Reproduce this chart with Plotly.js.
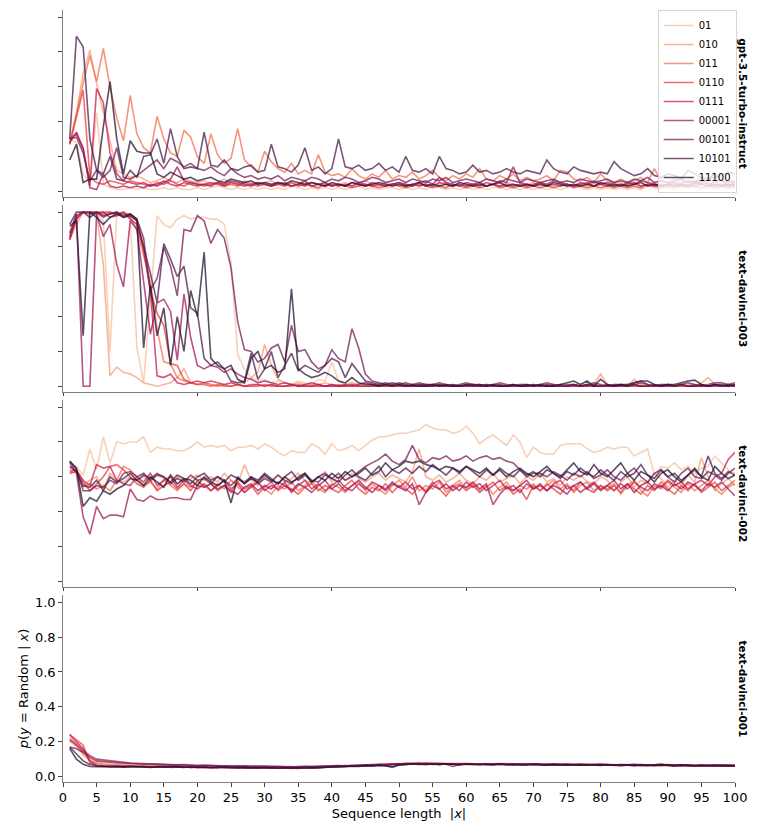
<!DOCTYPE html>
<html>
<head>
<meta charset="utf-8">
<script src="https://cdn.plot.ly/plotly-3.0.1.min.js"></script>
<style>
  html, body { margin: 0; padding: 0; background: #fff; }
  #chart { width: 761px; height: 837px; }
</style>
</head>
<body>
<div id="chart"></div>
<script>
// sequence types (hue) and their rocket_r colours
var seqTypes = ['01', '010', '011', '0110', '0111', '00001', '00101', '10101', '11100'];
var seqColors = ['#f6c1a2', '#f59e78', '#f27252', '#e6403f', '#cb1b4f', '#a11a5b', '#761e57', '#4c1d4b', '#241432'];
var models = ['gpt-3.5-turbo-instruct', 'text-davinci-003', 'text-davinci-002', 'text-davinci-001'];

var seqLength = [];
for (var i = 1; i <= 100; i++) seqLength.push(i);

// p(y = Random | x), one row per sequence type, x = 1..100
var gpt35Instruct = [
  [0.30,0.28,0.10,0.05,0.45,0.04,0.02,0.01,0.01,0.02, 0.01,0.02,0.01,0.01,0.02,0.01,0.02,0.01,0.01,0.02,
   0.01,0.02,0.03,0.02,0.01,0.02,0.01,0.02,0.01,0.02, 0.01,0.02,0.01,0.03,0.02,0.01,0.02,0.01,0.02,0.01,
   0.02,0.01,0.02,0.03,0.01,0.02,0.01,0.02,0.02,0.01, 0.02,0.01,0.02,0.01,0.03,0.02,0.01,0.02,0.01,0.02,
   0.01,0.02,0.01,0.02,0.03,0.01,0.02,0.01,0.02,0.01, 0.02,0.01,0.02,0.01,0.02,0.03,0.02,0.01,0.02,0.01,
   0.02,0.01,0.02,0.01,0.02,0.01,0.03,0.02,0.01,0.02, 0.01,0.02,0.04,0.02,0.01,0.02,0.01,0.02,0.01,0.02],
  [0.27,0.45,0.68,0.81,0.62,0.45,0.28,0.12,0.10,0.08, 0.09,0.07,0.05,0.06,0.08,0.06,0.05,0.07,0.06,0.05,
   0.06,0.04,0.05,0.07,0.05,0.04,0.06,0.05,0.04,0.05, 0.06,0.04,0.03,0.05,0.04,0.05,0.03,0.04,0.05,0.03,
   0.04,0.05,0.03,0.04,0.06,0.04,0.03,0.05,0.04,0.03, 0.04,0.03,0.05,0.04,0.03,0.04,0.05,0.03,0.04,0.03,
   0.04,0.05,0.03,0.04,0.03,0.05,0.04,0.03,0.04,0.05, 0.03,0.04,0.03,0.05,0.04,0.03,0.04,0.03,0.05,0.04,
   0.03,0.04,0.05,0.03,0.04,0.03,0.04,0.05,0.03,0.04, 0.05,0.04,0.03,0.04,0.06,0.04,0.03,0.04,0.03,0.04],
  [0.27,0.45,0.62,0.78,0.63,0.82,0.60,0.42,0.29,0.55, 0.33,0.25,0.22,0.43,0.30,0.22,0.20,0.35,0.31,0.20,
   0.16,0.33,0.21,0.16,0.19,0.36,0.18,0.14,0.11,0.23, 0.17,0.13,0.11,0.16,0.10,0.12,0.10,0.21,0.11,0.09,
   0.10,0.08,0.13,0.09,0.07,0.10,0.08,0.12,0.07,0.09, 0.08,0.11,0.07,0.09,0.12,0.08,0.06,0.09,0.07,0.10,
   0.08,0.13,0.07,0.06,0.09,0.07,0.10,0.06,0.08,0.06, 0.07,0.09,0.06,0.12,0.11,0.07,0.06,0.08,0.05,0.10,
   0.06,0.05,0.07,0.05,0.06,0.08,0.05,0.13,0.06,0.05, 0.07,0.05,0.06,0.04,0.05,0.07,0.05,0.04,0.06,0.04],
  [0.27,0.42,0.58,0.08,0.05,0.04,0.06,0.05,0.04,0.06, 0.05,0.04,0.03,0.05,0.04,0.06,0.04,0.03,0.05,0.04,
   0.03,0.04,0.05,0.03,0.04,0.03,0.05,0.04,0.03,0.04, 0.03,0.04,0.03,0.05,0.03,0.04,0.03,0.02,0.04,0.03,
   0.04,0.03,0.02,0.03,0.04,0.03,0.02,0.03,0.04,0.03, 0.02,0.03,0.04,0.03,0.02,0.03,0.02,0.04,0.03,0.02,
   0.03,0.02,0.03,0.04,0.02,0.03,0.02,0.03,0.02,0.03, 0.02,0.03,0.02,0.03,0.04,0.02,0.03,0.02,0.03,0.02,
   0.03,0.02,0.03,0.02,0.03,0.02,0.04,0.03,0.02,0.03, 0.02,0.03,0.02,0.03,0.02,0.03,0.02,0.03,0.02,0.03],
  [0.30,0.33,0.25,0.03,0.59,0.51,0.22,0.10,0.06,0.05, 0.04,0.05,0.03,0.04,0.06,0.04,0.03,0.05,0.04,0.03,
   0.04,0.05,0.04,0.03,0.05,0.04,0.03,0.04,0.05,0.04, 0.03,0.04,0.05,0.03,0.04,0.03,0.05,0.04,0.03,0.04,
   0.03,0.04,0.03,0.05,0.04,0.03,0.04,0.03,0.04,0.05, 0.03,0.04,0.03,0.04,0.03,0.05,0.04,0.03,0.04,0.03,
   0.04,0.03,0.05,0.04,0.03,0.04,0.03,0.04,0.03,0.04, 0.05,0.03,0.04,0.03,0.04,0.03,0.04,0.05,0.03,0.04,
   0.03,0.04,0.03,0.04,0.05,0.03,0.04,0.03,0.04,0.03, 0.04,0.03,0.04,0.03,0.04,0.05,0.03,0.04,0.03,0.04],
  [0.28,0.34,0.24,0.02,0.01,0.10,0.03,0.02,0.03,0.02, 0.03,0.02,0.04,0.03,0.05,0.07,0.14,0.06,0.05,0.04,
   0.04,0.03,0.05,0.04,0.06,0.05,0.04,0.03,0.05,0.04, 0.03,0.05,0.04,0.03,0.04,0.06,0.03,0.04,0.05,0.03,
   0.04,0.03,0.05,0.04,0.03,0.05,0.04,0.03,0.04,0.05, 0.04,0.03,0.05,0.06,0.04,0.08,0.05,0.04,0.03,0.05,
   0.04,0.05,0.03,0.04,0.06,0.05,0.14,0.05,0.04,0.03, 0.05,0.04,0.06,0.05,0.04,0.03,0.05,0.04,0.06,0.04,
   0.05,0.04,0.03,0.05,0.04,0.06,0.05,0.04,0.03,0.04, 0.05,0.04,0.06,0.05,0.08,0.04,0.05,0.07,0.03,0.05],
  [0.30,0.31,0.22,0.06,0.12,0.08,0.12,0.25,0.08,0.07, 0.09,0.12,0.15,0.18,0.13,0.19,0.17,0.14,0.16,0.13,
   0.12,0.14,0.11,0.09,0.13,0.10,0.08,0.09,0.07,0.08, 0.07,0.09,0.06,0.08,0.07,0.06,0.08,0.07,0.05,0.07,
   0.06,0.08,0.07,0.05,0.06,0.08,0.07,0.05,0.06,0.07, 0.05,0.07,0.06,0.05,0.07,0.06,0.08,0.05,0.06,0.07,
   0.06,0.05,0.07,0.06,0.05,0.07,0.06,0.05,0.07,0.06, 0.05,0.06,0.07,0.05,0.06,0.05,0.07,0.06,0.05,0.06,
   0.07,0.05,0.06,0.05,0.07,0.06,0.08,0.05,0.06,0.05, 0.06,0.07,0.05,0.06,0.05,0.07,0.10,0.06,0.05,0.06],
  [0.30,0.89,0.83,0.30,0.12,0.10,0.20,0.07,0.06,0.12, 0.08,0.20,0.21,0.30,0.16,0.36,0.20,0.13,0.14,0.13,
   0.34,0.15,0.14,0.18,0.13,0.12,0.14,0.15,0.11,0.12, 0.27,0.14,0.13,0.11,0.15,0.25,0.12,0.14,0.10,0.13,
   0.30,0.14,0.13,0.15,0.12,0.13,0.16,0.12,0.14,0.11, 0.20,0.12,0.11,0.13,0.10,0.20,0.13,0.12,0.10,0.11,
   0.15,0.11,0.12,0.10,0.11,0.13,0.11,0.10,0.12,0.11, 0.10,0.18,0.13,0.11,0.10,0.14,0.12,0.11,0.10,0.11,
   0.10,0.17,0.13,0.11,0.09,0.10,0.13,0.09,0.08,0.10, 0.09,0.07,0.12,0.10,0.08,0.07,0.08,0.09,0.11,0.10],
  [0.18,0.27,0.05,0.07,0.07,0.37,0.63,0.30,0.10,0.29, 0.23,0.22,0.22,0.10,0.08,0.11,0.09,0.07,0.08,0.06,
   0.07,0.08,0.06,0.05,0.07,0.06,0.05,0.06,0.04,0.05, 0.04,0.05,0.04,0.06,0.05,0.04,0.05,0.04,0.03,0.05,
   0.04,0.03,0.05,0.04,0.03,0.04,0.05,0.04,0.03,0.04, 0.03,0.04,0.05,0.03,0.04,0.03,0.04,0.03,0.05,0.04,
   0.03,0.04,0.03,0.04,0.05,0.03,0.04,0.03,0.04,0.03, 0.04,0.03,0.05,0.04,0.03,0.04,0.03,0.04,0.03,0.05,
   0.04,0.03,0.04,0.03,0.04,0.05,0.03,0.04,0.03,0.04, 0.03,0.04,0.03,0.05,0.04,0.03,0.04,0.03,0.04,0.03]
];

var davinci003 = [
  [0.88,0.97,1.00,1.00,0.99,0.95,0.20,1.00,0.99,0.97, 0.22,0.02,0.50,0.98,0.93,0.91,0.96,0.98,0.96,0.97,
   0.97,0.96,0.96,0.93,0.71,0.18,0.10,0.05,0.03,0.04, 0.02,0.03,0.02,0.01,0.03,0.02,0.01,0.04,0.03,0.14,
   0.03,0.01,0.02,0.01,0.02,0.01,0.02,0.01,0.00,0.01, 0.00,0.01,0.00,0.01,0.01,0.00,0.01,0.00,0.01,0.00,
   0.01,0.00,0.01,0.00,0.00,0.01,0.00,0.01,0.00,0.01, 0.00,0.01,0.00,0.01,0.00,0.00,0.01,0.00,0.01,0.00,
   0.01,0.00,0.00,0.01,0.00,0.01,0.00,0.01,0.00,0.01, 0.00,0.01,0.00,0.00,0.01,0.00,0.01,0.00,0.01,0.00],
  [0.84,0.93,1.00,1.00,0.99,0.70,0.06,0.11,0.08,0.07, 0.05,0.02,0.01,0.00,0.01,0.02,0.05,0.10,0.02,0.01,
   0.02,0.01,0.00,0.01,0.00,0.01,0.02,0.05,0.08,0.24, 0.12,0.04,0.02,0.01,0.02,0.01,0.00,0.01,0.02,0.01,
   0.00,0.01,0.02,0.01,0.00,0.01,0.00,0.01,0.00,0.01, 0.00,0.01,0.00,0.00,0.01,0.00,0.01,0.00,0.00,0.01,
   0.00,0.00,0.01,0.00,0.01,0.00,0.00,0.01,0.00,0.00, 0.01,0.00,0.00,0.01,0.00,0.01,0.00,0.00,0.01,0.07,
   0.01,0.00,0.01,0.00,0.04,0.01,0.00,0.01,0.00,0.00, 0.01,0.00,0.01,0.00,0.02,0.05,0.01,0.00,0.01,0.00],
  [0.84,0.96,1.00,1.00,1.00,0.99,1.00,0.98,0.99,0.97, 0.90,0.75,0.60,0.33,0.14,0.13,0.05,0.03,0.02,0.01,
   0.02,0.01,0.00,0.01,0.00,0.01,0.00,0.00,0.01,0.00, 0.01,0.00,0.00,0.01,0.00,0.00,0.01,0.00,0.00,0.01,
   0.00,0.00,0.01,0.00,0.00,0.00,0.01,0.00,0.00,0.00, 0.01,0.00,0.00,0.00,0.00,0.01,0.00,0.00,0.00,0.00,
   0.00,0.01,0.00,0.00,0.00,0.00,0.00,0.01,0.00,0.00, 0.00,0.00,0.01,0.00,0.00,0.00,0.00,0.00,0.01,0.00,
   0.00,0.00,0.00,0.01,0.00,0.00,0.00,0.00,0.00,0.01, 0.00,0.00,0.00,0.00,0.01,0.00,0.00,0.00,0.00,0.00],
  [0.84,0.97,1.00,1.00,1.00,1.00,1.00,0.99,1.00,0.98, 0.95,0.80,0.55,0.42,0.35,0.13,0.12,0.04,0.02,0.01,
   0.01,0.00,0.01,0.00,0.00,0.01,0.00,0.00,0.00,0.01, 0.00,0.00,0.00,0.00,0.01,0.00,0.00,0.00,0.00,0.00,
   0.01,0.00,0.00,0.00,0.00,0.00,0.01,0.00,0.00,0.00, 0.00,0.00,0.00,0.01,0.00,0.00,0.00,0.00,0.00,0.00,
   0.01,0.00,0.00,0.00,0.00,0.00,0.00,0.00,0.01,0.00, 0.00,0.00,0.00,0.00,0.00,0.01,0.00,0.00,0.00,0.00,
   0.00,0.00,0.01,0.00,0.00,0.00,0.00,0.00,0.00,0.01, 0.00,0.00,0.00,0.00,0.00,0.00,0.01,0.00,0.00,0.00],
  [0.85,0.96,1.00,1.00,0.99,1.00,0.97,0.98,1.00,0.96, 0.93,0.78,0.55,0.06,0.05,0.07,0.02,0.01,0.02,0.03,
   0.02,0.03,0.02,0.01,0.02,0.01,0.00,0.01,0.01,0.00, 0.01,0.00,0.00,0.01,0.00,0.00,0.00,0.01,0.00,0.00,
   0.00,0.00,0.01,0.00,0.00,0.00,0.00,0.00,0.01,0.00, 0.00,0.00,0.00,0.00,0.00,0.01,0.00,0.00,0.00,0.00,
   0.00,0.00,0.01,0.00,0.00,0.00,0.00,0.00,0.00,0.00, 0.01,0.00,0.00,0.00,0.00,0.00,0.00,0.01,0.00,0.00,
   0.00,0.00,0.00,0.00,0.01,0.00,0.00,0.00,0.00,0.00, 0.00,0.01,0.00,0.00,0.00,0.00,0.00,0.00,0.01,0.00],
  [0.88,0.99,0.00,0.00,0.99,0.86,0.93,0.70,0.57,0.95, 0.90,0.60,0.30,0.48,0.50,0.43,0.15,0.53,0.28,0.12,
   0.10,0.12,0.11,0.08,0.10,0.07,0.05,0.04,0.02,0.03, 0.02,0.01,0.02,0.01,0.00,0.01,0.02,0.01,0.00,0.01,
   0.00,0.01,0.00,0.01,0.02,0.01,0.00,0.01,0.00,0.01, 0.00,0.00,0.01,0.00,0.01,0.00,0.00,0.01,0.00,0.00,
   0.01,0.00,0.00,0.01,0.00,0.00,0.01,0.00,0.00,0.01, 0.00,0.00,0.01,0.00,0.00,0.01,0.00,0.00,0.01,0.00,
   0.00,0.01,0.00,0.00,0.02,0.03,0.01,0.00,0.01,0.00, 0.00,0.01,0.00,0.01,0.00,0.00,0.01,0.00,0.00,0.01],
  [0.86,0.98,1.00,0.99,1.00,0.97,0.99,1.00,0.98,0.99, 0.96,0.85,0.55,0.62,0.80,0.69,0.52,0.90,0.89,0.98,
   0.95,0.82,0.90,0.85,0.68,0.37,0.21,0.20,0.14,0.16, 0.22,0.24,0.14,0.35,0.20,0.21,0.14,0.10,0.12,0.21,
   0.16,0.14,0.33,0.22,0.07,0.03,0.02,0.01,0.02,0.01, 0.02,0.01,0.02,0.01,0.01,0.02,0.01,0.00,0.01,0.02,
   0.01,0.01,0.00,0.01,0.02,0.01,0.00,0.01,0.01,0.00, 0.01,0.02,0.01,0.00,0.01,0.01,0.00,0.01,0.02,0.01,
   0.00,0.01,0.01,0.00,0.01,0.02,0.01,0.00,0.01,0.01, 0.00,0.01,0.02,0.01,0.00,0.01,0.02,0.02,0.01,0.02],
  [0.93,1.00,1.00,0.97,1.00,0.98,0.99,1.00,0.97,0.98, 0.95,0.80,0.65,0.48,0.82,0.73,0.63,0.69,0.45,0.42,
   0.16,0.12,0.14,0.10,0.03,0.02,0.03,0.19,0.04,0.10, 0.20,0.05,0.12,0.19,0.09,0.12,0.10,0.08,0.12,0.16,
   0.14,0.05,0.13,0.08,0.03,0.02,0.01,0.02,0.01,0.02, 0.01,0.00,0.01,0.01,0.00,0.01,0.00,0.01,0.00,0.01,
   0.01,0.00,0.01,0.00,0.01,0.00,0.01,0.00,0.00,0.01, 0.00,0.01,0.00,0.01,0.00,0.01,0.00,0.01,0.00,0.00,
   0.01,0.00,0.01,0.00,0.01,0.00,0.00,0.01,0.00,0.01, 0.00,0.01,0.00,0.00,0.01,0.00,0.01,0.00,0.01,0.00],
  [0.92,0.95,0.29,1.00,0.97,0.93,0.97,0.99,0.97,0.99, 0.96,0.22,0.58,0.29,0.45,0.12,0.40,0.20,0.55,0.40,
   0.77,0.16,0.12,0.10,0.12,0.04,0.02,0.16,0.20,0.10, 0.12,0.08,0.10,0.56,0.10,0.07,0.05,0.06,0.08,0.06,
   0.03,0.02,0.05,0.02,0.01,0.01,0.00,0.01,0.00,0.01, 0.00,0.01,0.00,0.00,0.01,0.00,0.01,0.00,0.00,0.01,
   0.00,0.01,0.00,0.01,0.00,0.00,0.01,0.00,0.01,0.00, 0.01,0.00,0.00,0.01,0.02,0.03,0.01,0.03,0.00,0.04,
   0.01,0.00,0.01,0.01,0.02,0.03,0.03,0.01,0.00,0.01, 0.01,0.02,0.03,0.035,0.01,0.00,0.01,0.01,0.00,0.01]
];

var davinci002 = [
  [0.65,0.66,0.61,0.76,0.64,0.83,0.68,0.80,0.79,0.80, 0.80,0.83,0.74,0.77,0.76,0.76,0.75,0.75,0.77,0.80,
   0.77,0.78,0.77,0.78,0.75,0.77,0.77,0.78,0.76,0.79, 0.77,0.74,0.72,0.75,0.74,0.74,0.79,0.77,0.73,0.79,
   0.75,0.76,0.78,0.75,0.78,0.81,0.83,0.83,0.84,0.85, 0.85,0.86,0.87,0.90,0.88,0.87,0.87,0.85,0.86,0.89,
   0.85,0.79,0.82,0.84,0.81,0.78,0.84,0.80,0.71,0.77, 0.74,0.73,0.73,0.78,0.79,0.79,0.79,0.76,0.74,0.75,
   0.77,0.76,0.77,0.77,0.72,0.74,0.76,0.61,0.66,0.65, 0.68,0.64,0.66,0.62,0.65,0.66,0.72,0.68,0.64,0.62],
  [0.64,0.64,0.55,0.58,0.60,0.53,0.62,0.58,0.57,0.60, 0.58,0.60,0.57,0.61,0.59,0.56,0.60,0.58,0.59,0.61,
   0.58,0.60,0.57,0.62,0.58,0.56,0.67,0.58,0.55,0.60, 0.58,0.61,0.57,0.59,0.62,0.58,0.56,0.60,0.63,0.57,
   0.60,0.58,0.62,0.59,0.57,0.60,0.62,0.58,0.61,0.59, 0.57,0.63,0.76,0.60,0.58,0.61,0.57,0.59,0.62,0.58,
   0.56,0.60,0.58,0.62,0.57,0.59,0.61,0.56,0.60,0.58, 0.62,0.57,0.59,0.55,0.60,0.58,0.61,0.57,0.56,0.60,
   0.58,0.52,0.57,0.60,0.54,0.58,0.56,0.62,0.59,0.54, 0.58,0.55,0.61,0.57,0.71,0.60,0.52,0.56,0.59,0.55],
  [0.62,0.63,0.54,0.56,0.53,0.55,0.52,0.58,0.66,0.64, 0.60,0.55,0.57,0.53,0.58,0.55,0.52,0.56,0.54,0.57,
   0.55,0.52,0.56,0.53,0.58,0.54,0.51,0.55,0.57,0.53, 0.50,0.55,0.53,0.57,0.52,0.55,0.58,0.53,0.51,0.56,
   0.54,0.51,0.55,0.57,0.52,0.56,0.53,0.50,0.55,0.58, 0.54,0.60,0.52,0.55,0.53,0.57,0.51,0.55,0.58,0.53,
   0.56,0.52,0.55,0.50,0.54,0.57,0.52,0.55,0.53,0.56, 0.52,0.55,0.58,0.53,0.56,0.51,0.55,0.57,0.52,0.55,
   0.53,0.56,0.50,0.55,0.58,0.52,0.49,0.55,0.53,0.57, 0.54,0.51,0.56,0.52,0.55,0.58,0.53,0.50,0.54,0.56],
  [0.62,0.63,0.57,0.52,0.56,0.60,0.66,0.67,0.64,0.60, 0.56,0.54,0.58,0.52,0.55,0.57,0.53,0.56,0.52,0.58,
   0.54,0.56,0.52,0.55,0.51,0.57,0.53,0.55,0.50,0.54, 0.57,0.52,0.55,0.53,0.50,0.54,0.56,0.52,0.55,0.53,
   0.51,0.55,0.58,0.53,0.50,0.54,0.52,0.56,0.51,0.55, 0.53,0.50,0.55,0.52,0.57,0.53,0.49,0.54,0.56,0.52,
   0.55,0.51,0.54,0.57,0.52,0.55,0.50,0.53,0.47,0.55, 0.52,0.56,0.53,0.50,0.55,0.52,0.57,0.53,0.51,0.55,
   0.52,0.55,0.51,0.56,0.53,0.50,0.55,0.52,0.57,0.53, 0.50,0.55,0.52,0.56,0.51,0.54,0.57,0.52,0.55,0.58],
  [0.63,0.64,0.58,0.55,0.67,0.65,0.66,0.58,0.56,0.55, 0.60,0.57,0.62,0.55,0.58,0.60,0.54,0.58,0.55,0.53,
   0.56,0.52,0.55,0.58,0.53,0.56,0.51,0.54,0.57,0.52, 0.55,0.53,0.57,0.51,0.55,0.58,0.53,0.56,0.52,0.55,
   0.58,0.54,0.52,0.56,0.53,0.57,0.55,0.52,0.56,0.54, 0.57,0.53,0.55,0.51,0.56,0.58,0.53,0.55,0.52,0.57,
   0.54,0.56,0.52,0.55,0.58,0.53,0.55,0.51,0.56,0.53, 0.55,0.52,0.56,0.58,0.53,0.55,0.51,0.54,0.57,0.53,
   0.55,0.52,0.56,0.53,0.57,0.54,0.52,0.56,0.54,0.58, 0.55,0.57,0.53,0.56,0.58,0.55,0.60,0.62,0.70,0.74],
  [0.68,0.62,0.37,0.27,0.43,0.36,0.38,0.38,0.37,0.53, 0.47,0.46,0.49,0.47,0.47,0.48,0.48,0.47,0.47,0.55,
   0.54,0.56,0.53,0.55,0.52,0.50,0.54,0.56,0.52,0.55, 0.53,0.57,0.55,0.52,0.56,0.54,0.51,0.55,0.58,0.53,
   0.56,0.52,0.55,0.58,0.54,0.51,0.55,0.53,0.57,0.54, 0.52,0.56,0.44,0.51,0.55,0.53,0.56,0.52,0.55,0.54,
   0.57,0.53,0.56,0.44,0.50,0.54,0.52,0.55,0.58,0.53, 0.56,0.52,0.55,0.53,0.50,0.55,0.57,0.53,0.56,0.52,
   0.55,0.58,0.53,0.56,0.51,0.55,0.57,0.53,0.55,0.52, 0.56,0.53,0.57,0.55,0.52,0.56,0.54,0.57,0.53,0.49],
  [0.69,0.64,0.52,0.52,0.55,0.54,0.58,0.56,0.62,0.63, 0.60,0.62,0.58,0.61,0.60,0.56,0.59,0.57,0.61,0.58,
   0.59,0.56,0.60,0.58,0.55,0.59,0.57,0.60,0.56,0.59, 0.57,0.61,0.58,0.56,0.60,0.62,0.58,0.57,0.61,0.59,
   0.62,0.58,0.60,0.63,0.66,0.68,0.70,0.73,0.69,0.67, 0.70,0.78,0.70,0.68,0.71,0.70,0.72,0.69,0.70,0.72,
   0.69,0.71,0.72,0.70,0.71,0.69,0.68,0.64,0.60,0.62, 0.62,0.60,0.63,0.61,0.58,0.62,0.60,0.63,0.59,0.61,
   0.64,0.60,0.58,0.62,0.65,0.60,0.57,0.62,0.64,0.60, 0.57,0.62,0.65,0.60,0.59,0.63,0.61,0.58,0.62,0.65],
  [0.66,0.63,0.55,0.54,0.58,0.52,0.60,0.57,0.59,0.62, 0.58,0.61,0.59,0.62,0.60,0.57,0.61,0.59,0.56,0.60,
   0.62,0.58,0.60,0.57,0.61,0.59,0.56,0.60,0.58,0.62, 0.59,0.56,0.60,0.63,0.58,0.61,0.57,0.60,0.62,0.59,
   0.57,0.61,0.64,0.60,0.58,0.62,0.66,0.60,0.64,0.62, 0.65,0.62,0.66,0.63,0.67,0.64,0.61,0.65,0.62,0.66,
   0.63,0.60,0.64,0.61,0.65,0.62,0.60,0.64,0.61,0.63, 0.60,0.64,0.62,0.59,0.63,0.61,0.65,0.62,0.60,0.64,
   0.61,0.58,0.63,0.60,0.62,0.67,0.61,0.59,0.64,0.60, 0.62,0.58,0.61,0.64,0.60,0.72,0.62,0.59,0.63,0.61],
  [0.69,0.65,0.43,0.48,0.46,0.52,0.50,0.53,0.55,0.59, 0.58,0.55,0.60,0.57,0.54,0.61,0.56,0.59,0.58,0.55,
   0.60,0.57,0.55,0.58,0.45,0.60,0.56,0.59,0.57,0.61, 0.58,0.56,0.60,0.57,0.59,0.62,0.57,0.60,0.58,0.62,
   0.59,0.63,0.60,0.62,0.65,0.61,0.63,0.68,0.64,0.66, 0.69,0.68,0.69,0.67,0.66,0.64,0.66,0.65,0.63,0.66,
   0.64,0.62,0.65,0.61,0.64,0.60,0.63,0.65,0.62,0.60, 0.63,0.66,0.62,0.60,0.64,0.68,0.63,0.61,0.67,0.62,
   0.60,0.64,0.68,0.62,0.58,0.63,0.61,0.57,0.62,0.64, 0.60,0.57,0.61,0.65,0.60,0.58,0.66,0.62,0.59,0.61]
];

var davinci001 = [
  [0.20,0.17,0.12,0.09,0.08,0.072,0.070,0.068,0.066,0.065, 0.062,0.064,0.060,0.063,0.061,0.058,0.062,0.060,0.057,0.060,
   0.058,0.055,0.057,0.060,0.056,0.054,0.057,0.055,0.053,0.056, 0.054,0.052,0.055,0.053,0.051,0.054,0.056,0.053,0.055,0.058,
   0.060,0.057,0.062,0.064,0.066,0.068,0.072,0.070,0.073,0.075, 0.074,0.078,0.076,0.074,0.077,0.075,0.073,0.076,0.074,0.072,
   0.075,0.073,0.071,0.074,0.072,0.075,0.073,0.070,0.072,0.074, 0.071,0.073,0.070,0.072,0.069,0.071,0.073,0.070,0.068,0.071,
   0.069,0.067,0.070,0.068,0.066,0.069,0.067,0.065,0.068,0.066, 0.064,0.067,0.065,0.063,0.066,0.068,0.064,0.066,0.063,0.065],
  [0.21,0.18,0.13,0.10,0.08,0.075,0.072,0.070,0.068,0.066, 0.064,0.062,0.065,0.061,0.063,0.060,0.058,0.061,0.059,0.062,
   0.057,0.059,0.056,0.058,0.055,0.057,0.054,0.056,0.058,0.055, 0.053,0.055,0.052,0.054,0.056,0.053,0.051,0.054,0.057,0.059,
   0.056,0.060,0.063,0.061,0.066,0.064,0.069,0.073,0.071,0.076, 0.078,0.075,0.080,0.077,0.074,0.079,0.076,0.073,0.075,0.077,
   0.074,0.072,0.075,0.073,0.076,0.072,0.070,0.073,0.075,0.071, 0.073,0.070,0.072,0.074,0.071,0.069,0.072,0.070,0.073,0.069,
   0.071,0.068,0.066,0.069,0.067,0.070,0.066,0.068,0.065,0.067, 0.069,0.065,0.063,0.066,0.068,0.064,0.062,0.065,0.067,0.063],
  [0.22,0.19,0.14,0.09,0.075,0.068,0.066,0.064,0.062,0.063, 0.060,0.062,0.058,0.061,0.059,0.057,0.060,0.058,0.056,0.059,
   0.055,0.057,0.053,0.056,0.054,0.052,0.055,0.050,0.053,0.051, 0.054,0.050,0.052,0.055,0.051,0.053,0.050,0.052,0.055,0.057,
   0.059,0.062,0.060,0.064,0.067,0.065,0.070,0.072,0.074,0.071, 0.076,0.079,0.075,0.077,0.080,0.076,0.074,0.072,0.075,0.073,
   0.071,0.074,0.072,0.070,0.073,0.071,0.074,0.072,0.069,0.071, 0.068,0.071,0.069,0.072,0.070,0.067,0.070,0.068,0.066,0.069,
   0.067,0.065,0.068,0.066,0.064,0.067,0.065,0.063,0.066,0.064, 0.062,0.065,0.067,0.063,0.061,0.064,0.066,0.062,0.064,0.061],
  [0.24,0.21,0.18,0.08,0.062,0.058,0.060,0.057,0.059,0.056, 0.058,0.055,0.057,0.054,0.056,0.053,0.055,0.057,0.052,0.054,
   0.051,0.053,0.049,0.052,0.050,0.048,0.051,0.049,0.052,0.050, 0.048,0.051,0.049,0.047,0.050,0.052,0.049,0.051,0.054,0.056,
   0.058,0.061,0.059,0.063,0.066,0.069,0.067,0.071,0.074,0.072, 0.075,0.073,0.077,0.074,0.071,0.074,0.072,0.075,0.070,0.073,
   0.071,0.069,0.072,0.070,0.073,0.069,0.071,0.068,0.070,0.072, 0.069,0.067,0.070,0.068,0.071,0.067,0.069,0.066,0.068,0.065,
   0.067,0.064,0.066,0.068,0.063,0.066,0.064,0.067,0.062,0.065, 0.063,0.061,0.064,0.062,0.065,0.061,0.063,0.060,0.063,0.061],
  [0.24,0.20,0.16,0.09,0.065,0.060,0.058,0.061,0.057,0.060, 0.056,0.058,0.055,0.057,0.059,0.055,0.057,0.054,0.056,0.053,
   0.055,0.052,0.054,0.051,0.053,0.055,0.050,0.052,0.049,0.051, 0.053,0.049,0.051,0.048,0.050,0.052,0.048,0.050,0.053,0.055,
   0.057,0.059,0.062,0.060,0.064,0.067,0.065,0.068,0.071,0.073, 0.071,0.074,0.072,0.076,0.073,0.070,0.073,0.071,0.074,0.072,
   0.070,0.073,0.069,0.071,0.074,0.070,0.072,0.069,0.071,0.068, 0.070,0.072,0.068,0.070,0.067,0.069,0.071,0.067,0.069,0.066,
   0.068,0.066,0.063,0.066,0.068,0.064,0.066,0.063,0.065,0.067, 0.063,0.065,0.062,0.064,0.061,0.063,0.065,0.061,0.063,0.060],
  [0.21,0.18,0.15,0.12,0.10,0.095,0.092,0.088,0.082,0.078, 0.076,0.074,0.075,0.072,0.070,0.068,0.067,0.069,0.066,0.064,
   0.065,0.062,0.063,0.060,0.061,0.059,0.062,0.058,0.060,0.057, 0.059,0.056,0.058,0.055,0.057,0.059,0.056,0.058,0.060,0.062,
   0.060,0.063,0.061,0.065,0.063,0.067,0.070,0.068,0.072,0.070, 0.073,0.071,0.075,0.072,0.070,0.073,0.071,0.058,0.068,0.072,
   0.070,0.072,0.069,0.071,0.073,0.070,0.072,0.069,0.071,0.073, 0.070,0.068,0.071,0.069,0.072,0.068,0.070,0.067,0.069,0.071,
   0.068,0.066,0.069,0.067,0.070,0.066,0.068,0.065,0.067,0.069, 0.066,0.064,0.067,0.065,0.063,0.066,0.064,0.067,0.065,0.063],
  [0.17,0.16,0.14,0.11,0.09,0.085,0.083,0.080,0.077,0.075, 0.073,0.071,0.072,0.069,0.070,0.067,0.068,0.066,0.067,0.064,
   0.065,0.063,0.061,0.063,0.060,0.062,0.059,0.061,0.058,0.060, 0.057,0.059,0.056,0.058,0.055,0.057,0.059,0.057,0.060,0.062,
   0.064,0.061,0.065,0.063,0.066,0.069,0.067,0.064,0.070,0.073, 0.071,0.074,0.072,0.069,0.073,0.071,0.074,0.072,0.070,0.073,
   0.071,0.069,0.072,0.070,0.073,0.071,0.068,0.071,0.069,0.072, 0.070,0.067,0.070,0.068,0.071,0.069,0.066,0.069,0.067,0.070,
   0.068,0.065,0.068,0.066,0.069,0.067,0.064,0.067,0.070,0.066, 0.064,0.067,0.065,0.062,0.065,0.063,0.066,0.064,0.062,0.065],
  [0.17,0.13,0.09,0.07,0.062,0.060,0.058,0.060,0.057,0.059, 0.056,0.058,0.055,0.057,0.054,0.056,0.058,0.055,0.053,0.056,
   0.054,0.052,0.055,0.053,0.051,0.054,0.052,0.050,0.053,0.051, 0.049,0.052,0.050,0.048,0.046,0.050,0.052,0.050,0.053,0.055,
   0.058,0.056,0.060,0.058,0.062,0.060,0.064,0.062,0.052,0.066, 0.069,0.072,0.070,0.073,0.071,0.069,0.072,0.070,0.068,0.071,
   0.069,0.072,0.070,0.067,0.070,0.068,0.071,0.069,0.067,0.070, 0.068,0.066,0.069,0.067,0.065,0.068,0.066,0.069,0.067,0.064,
   0.067,0.065,0.068,0.066,0.063,0.066,0.064,0.067,0.070,0.065, 0.063,0.066,0.064,0.061,0.064,0.062,0.065,0.063,0.061,0.064],
  [0.16,0.10,0.07,0.058,0.056,0.058,0.055,0.057,0.054,0.056, 0.058,0.055,0.053,0.056,0.054,0.057,0.055,0.053,0.056,0.052,
   0.054,0.051,0.053,0.055,0.052,0.050,0.053,0.051,0.049,0.052, 0.050,0.048,0.051,0.049,0.052,0.050,0.053,0.051,0.054,0.056,
   0.059,0.057,0.061,0.059,0.063,0.061,0.065,0.063,0.058,0.067, 0.070,0.073,0.071,0.069,0.072,0.070,0.073,0.071,0.069,0.072,
   0.070,0.068,0.071,0.069,0.072,0.070,0.067,0.070,0.068,0.071, 0.069,0.067,0.070,0.068,0.066,0.069,0.067,0.065,0.068,0.066,
   0.069,0.067,0.064,0.067,0.065,0.068,0.066,0.064,0.067,0.065, 0.063,0.066,0.064,0.062,0.065,0.063,0.061,0.064,0.062,0.063]
];

var panels = [gpt35Instruct, davinci003, davinci002, davinci001];
// panel domains, top to bottom
var domains = [[0.7582, 1], [0.5056, 0.7474], [0.2530, 0.4948], [0, 0.2422]];

var data = [];
for (var p = 0; p < panels.length; p++) {
  var suffix = p === 0 ? '' : String(p + 1);
  for (var s = 0; s < seqTypes.length; s++) {
    data.push({
      x: seqLength,
      y: panels[p][s],
      xaxis: 'x' + suffix,
      yaxis: 'y' + suffix,
      type: 'scatter',
      mode: 'lines',
      name: seqTypes[s],
      legendgroup: seqTypes[s],
      showlegend: p === 0,
      opacity: 0.75,
      line: { color: seqColors[s], width: 1.6 }
    });
  }
}

var spineColor = '#808080';
var layout = {
  width: 761,
  height: 837,
  margin: { l: 63, r: 26, t: 10, b: 55 },
  paper_bgcolor: '#fff',
  plot_bgcolor: '#fff',
  font: { family: 'DejaVu Sans, sans-serif', size: 13, color: '#000' },
  hovermode: false,
  showlegend: true,
  legend: {
    x: 0.885, y: 1.0, xanchor: 'left', yanchor: 'top',
    font: { size: 10 },
    bgcolor: 'rgba(255,255,255,0.8)',
    bordercolor: '#d6d6d6',
    borderwidth: 1,
    itemwidth: 30,
    tracegroupgap: 0
  },
  annotations: []
};

for (var k = 0; k < 4; k++) {
  var ax = k === 0 ? '' : String(k + 1);
  var last = k === 3;
  layout['xaxis' + ax] = {
    anchor: 'y' + ax,
    domain: [0, 1],
    range: [0, 100],
    showgrid: false, zeroline: false,
    showline: true, linecolor: spineColor, linewidth: 1.3,
    ticks: 'outside', ticklen: 3.5, tickwidth: 1, tickcolor: '#444',
    tickvals: last ? null : [0, 20, 40, 60, 80, 100],
    tick0: 0, dtick: last ? 5 : 20,
    showticklabels: last,
    tickfont: { size: 13 },
    title: last ? { text: 'Sequence length\u00a0 |<i>x</i>|', font: { size: 13 }, standoff: 4 } : { text: '' }
  };
  layout['yaxis' + ax] = {
    anchor: 'x' + ax,
    domain: domains[k],
    range: [-0.031, 1.041],
    showgrid: false, zeroline: false,
    showline: true, linecolor: spineColor, linewidth: 1.3,
    ticks: 'outside', ticklen: 3.5, tickwidth: 1, tickcolor: '#444',
    tickvals: [0, 0.2, 0.4, 0.6, 0.8, 1.0],
    tickformat: '.1f',
    showticklabels: last,
    tickfont: { size: 13 },
    title: last ? { text: '<i>p</i>(<i>y</i> = Random | <i>x</i>)', font: { size: 13 }, standoff: 3 } : { text: '' }
  };
  layout.annotations.push({
    text: '<b>' + models[k] + '</b>',
    xref: 'paper', yref: 'paper',
    x: 1, y: (domains[k][0] + domains[k][1]) / 2,
    xanchor: 'left', yanchor: 'middle',
    xshift: 0,
    textangle: 90,
    showarrow: false,
    font: { size: 10.5, color: '#000' }
  });
}

Plotly.newPlot('chart', data, layout, { displayModeBar: false, staticPlot: true });
</script>
</body>
</html>
